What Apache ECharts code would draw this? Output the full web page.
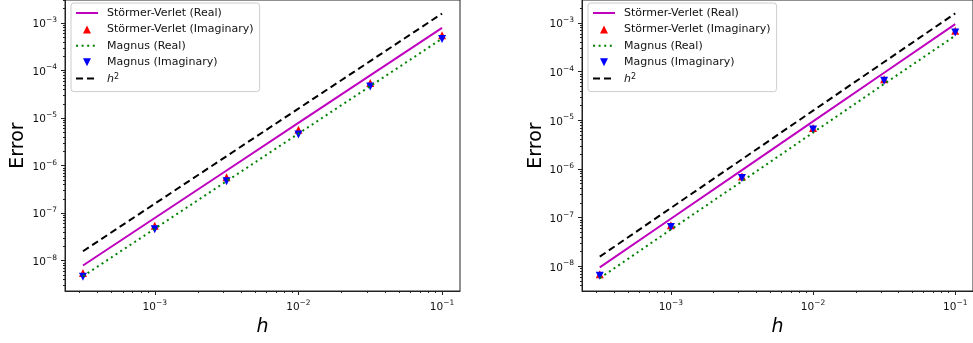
<!DOCTYPE html>
<html><head><meta charset="utf-8">
<script src="https://cdn.jsdelivr.net/npm/echarts@6/dist/echarts.min.js"></script>
<style>html,body{margin:0;padding:0;background:#fff}#c{width:973px;height:343px}</style>
</head><body><div id="c"></div>
<script>
// step sizes h
const hValues = [3.162e-4, 1e-3, 3.162e-3, 1e-2, 3.162e-2, 1e-1];
// left panel
const leftSVReal = [7.9e-9, 7.9e-8, 7.9e-7, 7.9e-6, 7.9e-5, 7.9e-4];
const leftSVImag = [5.5e-9, 5.4e-8, 5.7e-7, 5.7e-6, 5.5e-5, 5.5e-4];
const leftMagReal = [4.7e-9, 4.7e-8, 4.7e-7, 4.7e-6, 4.7e-5, 4.7e-4];
const leftMagImag = [4.6e-9, 4.6e-8, 4.7e-7, 4.5e-6, 4.6e-5, 4.6e-4];
const leftH2 = [1.58e-8, 1.58e-7, 1.58e-6, 1.58e-5, 1.58e-4, 1.58e-3];
// right panel
const rightSVReal = [9.5e-9, 9.5e-8, 9.5e-7, 9.5e-6, 9.5e-5, 9.5e-4];
const rightSVImag = [6.9e-9, 7.0e-8, 7.0e-7, 7.0e-6, 7.0e-5, 6.9e-4];
const rightMagReal = [5.7e-9, 5.7e-8, 5.6e-7, 5.6e-6, 5.6e-5, 5.5e-4];
const rightMagImag = [6.4e-9, 6.4e-8, 6.5e-7, 6.5e-6, 6.5e-5, 6.4e-4];
const rightH2 = [1.58e-8, 1.58e-7, 1.58e-6, 1.58e-5, 1.58e-4, 1.58e-3];
// ticks
const xMajorTicks = [1e-3, 1e-2, 1e-1];
const yMajorTicks = [1e-9, 1e-8, 1e-7, 1e-6, 1e-5, 1e-4, 1e-3];
const seriesNames = ['Störmer-Verlet (Real)', 'Störmer-Verlet (Imaginary)', 'Magnus (Real)', 'Magnus (Imaginary)', 'h^2'];

function minorTicks(fromExp, toExp) {
  const out = [];
  for (let e = fromExp; e <= toExp; e++) for (let m = 2; m <= 9; m++) out.push(+(m + 'e' + e));
  return out;
}
const xMinor = minorTicks(-4, -2).filter(v => v > 2.37e-4 && v < 0.133);
const yMinor = minorTicks(-9, -3);

const FONT = 'DejaVu Sans';
const AX = '#222';
const TXT = '#111';
const supRich = {
  b: { fontSize: 10.5, fontFamily: FONT, color: TXT, lineHeight: 14, verticalAlign: 'bottom' },
  s: { fontSize: 7.5, fontFamily: FONT, color: TXT, lineHeight: 9, verticalAlign: 'top' }
};
const powFmt = v => '{b|10}{s|\u2212' + Math.abs(Math.round(Math.log10(v))) + '}';
const pairs = vals => hValues.map((h, i) => [h, vals[i]]);

const grids = [
  { left: 65, top: -4, width: 395, height: 295, show: true, borderColor: AX, borderWidth: 1, backgroundColor: 'transparent' },
  { left: 582, top: -4, width: 396, height: 295, show: true, borderColor: AX, borderWidth: 1, backgroundColor: 'transparent' }
];
const xMin = Math.pow(10, -3.625), xMax = Math.pow(10, -0.875);
const yRanges = [[Math.pow(10, -8.638), Math.pow(10, -2.516)], [Math.pow(10, -8.507), Math.pow(10, -2.527)]];

const xAxes = [], yAxes = [];
[0, 1].forEach(g => {
  xAxes.push({
    type: 'log', logBase: 10, gridIndex: g, min: xMin, max: xMax,
    name: 'h', nameLocation: 'middle', nameGap: 24,
    nameTextStyle: { fontSize: 19, fontStyle: 'italic', fontFamily: FONT, color: '#000' },
    axisLine: { show: true, lineStyle: { color: AX, width: 1 } },
    axisTick: { show: true, length: 4, lineStyle: { color: AX }, customValues: xMajorTicks },
    axisLabel: { show: true, margin: 8, formatter: powFmt, rich: supRich, customValues: xMajorTicks },
    splitLine: { show: false }
  });
  xAxes.push({
    type: 'log', logBase: 10, gridIndex: g, min: xMin, max: xMax, position: 'bottom',
    axisLine: { show: false },
    axisTick: { show: true, length: 2, lineStyle: { color: AX }, customValues: xMinor },
    axisLabel: { show: false },
    splitLine: { show: false }
  });
  yAxes.push({
    type: 'log', logBase: 10, gridIndex: g, min: yRanges[g][0], max: yRanges[g][1],
    name: 'Error', nameLocation: 'middle', nameGap: g === 0 ? 37 : 35, nameRotate: 90,
    nameTextStyle: { fontSize: 19, fontFamily: FONT, color: '#000' },
    axisLine: { show: true, lineStyle: { color: AX, width: 1 } },
    axisTick: { show: true, length: 4, lineStyle: { color: AX }, customValues: yMajorTicks },
    axisLabel: { show: true, margin: 8, formatter: powFmt, rich: supRich, customValues: yMajorTicks },
    splitLine: { show: false }
  });
  yAxes.push({
    type: 'log', logBase: 10, gridIndex: g, min: yRanges[g][0], max: yRanges[g][1], position: 'left',
    axisLine: { show: false },
    axisTick: { show: true, length: 2, lineStyle: { color: AX }, customValues: yMinor },
    axisLabel: { show: false },
    splitLine: { show: false }
  });
});

function panelSeries(g, svr, svi, mr, mi, h2) {
  const xi = g * 2, yi = g * 2;
  return [
    { name: seriesNames[0], type: 'line', xAxisIndex: xi, yAxisIndex: yi, data: pairs(svr), symbol: 'none',
      lineStyle: { color: '#bf00bf', width: 2 }, itemStyle: { color: '#bf00bf' }, silent: true, animation: false },
    { name: seriesNames[1], type: 'scatter', xAxisIndex: xi, yAxisIndex: yi, data: pairs(svi), symbol: 'triangle', symbolSize: 8,
      itemStyle: { color: '#ff0000', opacity: 1 }, silent: true, animation: false },
    { name: seriesNames[2], type: 'line', xAxisIndex: xi, yAxisIndex: yi, data: pairs(mr), symbol: 'none',
      lineStyle: { color: '#008000', width: 2, type: [2, 3.6] }, itemStyle: { color: '#008000' }, silent: true, animation: false },
    { name: seriesNames[3], type: 'scatter', xAxisIndex: xi, yAxisIndex: yi, data: pairs(mi), symbol: 'triangle', symbolRotate: 180, symbolSize: 8,
      itemStyle: { color: '#0000ff', opacity: 1 }, silent: true, animation: false },
    { name: seriesNames[4], type: 'line', xAxisIndex: xi, yAxisIndex: yi, data: pairs(h2), symbol: 'none',
      lineStyle: { color: '#000000', width: 2, type: [7, 4] }, itemStyle: { color: '#000' }, silent: true, animation: false }
  ];
}

// legend entries: hide the default symbol on line items, use small triangles for marker items
const legendData = [
  { name: seriesNames[0], itemStyle: { opacity: 0 } },
  { name: seriesNames[1], icon: 'path://M0,0M22,12M7,10L15,10L11,2Z', itemStyle: { color: '#ff0000', opacity: 1 } },
  { name: seriesNames[2], itemStyle: { opacity: 0 } },
  { name: seriesNames[3], icon: 'path://M0,0M22,12M7,2L15,2L11,10Z', itemStyle: { color: '#0000ff', opacity: 1 } },
  { name: seriesNames[4], itemStyle: { opacity: 0 } }
];

const legendBase = left => ({
  orient: 'vertical', left: left, top: 3, data: legendData,
  backgroundColor: 'rgba(255,255,255,0.8)', borderColor: '#cccccc', borderWidth: 1, borderRadius: 3,
  padding: [4, 6, 7, 4], itemWidth: 22, itemHeight: 12, itemGap: 4.4, selectedMode: false,
  textStyle: { fontSize: 11, fontFamily: FONT, color: TXT, lineHeight: 12, padding: [0, 0, 0, 4],
    rich: { i: { fontSize: 11, fontStyle: 'italic', fontFamily: FONT, color: TXT, verticalAlign: 'bottom', lineHeight: 12 },
            s: { fontSize: 8, fontFamily: FONT, color: TXT, verticalAlign: 'top', lineHeight: 8 } } },
  formatter: n => n === 'h^2' ? '{i|h}{s|2}' : n
});

const chart = echarts.init(document.getElementById('c'), null, { renderer: 'canvas' });
chart.setOption({
  animation: false,
  backgroundColor: '#ffffff',
  grid: grids,
  xAxis: xAxes,
  yAxis: yAxes,
  legend: [legendBase(71), legendBase(588)],
  series: [].concat(
    panelSeries(0, leftSVReal, leftSVImag, leftMagReal, leftMagImag, leftH2),
    panelSeries(1, rightSVReal, rightSVImag, rightMagReal, rightMagImag, rightH2)
  )
});
</script></body></html>
